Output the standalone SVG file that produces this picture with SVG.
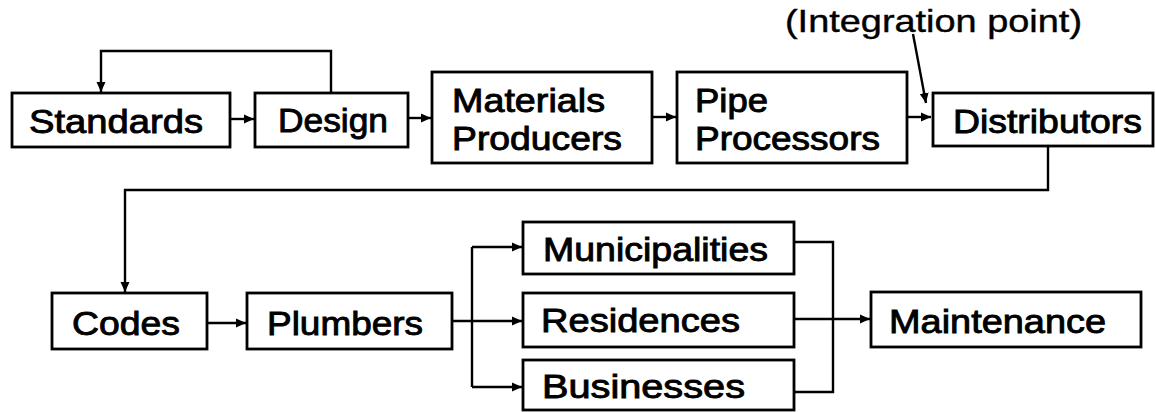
<svg xmlns="http://www.w3.org/2000/svg" width="1156" height="412" viewBox="0 0 1156 412">
  <style>
    .box { fill: #fff; stroke: #000; stroke-width: 2.8; }
    .lbl { font-family: "Liberation Sans", Arial, sans-serif; font-size: 33px; fill: #000; stroke: #000; stroke-width: 0.9; }
    .note { font-family: "Liberation Sans", Arial, sans-serif; font-size: 32px; fill: #000; stroke: #000; stroke-width: 0.4; }
    .wire { fill: none; stroke: #000; stroke-width: 2.4; }
  </style>
  <defs>
    <marker id="arrow" viewBox="0 0 10 10" refX="10" refY="5" markerWidth="10" markerHeight="10" markerUnits="userSpaceOnUse" orient="auto">
      <path d="M0,0.5 L10,5 L0,9.5 Z" fill="#000"/>
    </marker>
  </defs>

  <rect width="1156" height="412" fill="#fff"/>

  <!-- connectors -->
  <g id="connectors">
    <path class="wire" d="M331,93 V51 H101 V92" marker-end="url(#arrow)"/>
    <path class="wire" d="M230,119 H254" marker-end="url(#arrow)"/>
    <path class="wire" d="M408,118 H431" marker-end="url(#arrow)"/>
    <path class="wire" d="M652,117 H676" marker-end="url(#arrow)"/>
    <path class="wire" d="M907,117 H931" marker-end="url(#arrow)"/>
    <path class="wire" d="M913,34 L926,103" marker-end="url(#arrow)"/>
    <path class="wire" d="M1048,146 V190 H125 V292" marker-end="url(#arrow)"/>
    <path class="wire" d="M207,323 H246" marker-end="url(#arrow)"/>
    <path class="wire" d="M452,321 H522" marker-end="url(#arrow)"/>
    <path class="wire" d="M472,247 V387"/>
    <path class="wire" d="M472,247 H522" marker-end="url(#arrow)"/>
    <path class="wire" d="M472,387 H522" marker-end="url(#arrow)"/>
    <path class="wire" d="M794,242 H833 V392 H794"/>
    <path class="wire" d="M794,319 H870" marker-end="url(#arrow)"/>
  </g>

  <text class="note" x="785" y="32" textLength="297" lengthAdjust="spacingAndGlyphs">(Integration point)</text>

  <g id="standards">
    <rect class="box" x="12" y="93" width="218" height="54"/>
    <text class="lbl" x="29" y="133" textLength="174" lengthAdjust="spacingAndGlyphs">Standards</text>
  </g>
  <g id="design">
    <rect class="box" x="255" y="93" width="153" height="54"/>
    <text class="lbl" x="278" y="132" textLength="110" lengthAdjust="spacingAndGlyphs">Design</text>
  </g>
  <g id="materials-producers">
    <rect class="box" x="432" y="72" width="220" height="91"/>
    <text class="lbl" x="452" y="112" textLength="153" lengthAdjust="spacingAndGlyphs">Materials</text>
    <text class="lbl" x="452" y="150" textLength="170" lengthAdjust="spacingAndGlyphs">Producers</text>
  </g>
  <g id="pipe-processors">
    <rect class="box" x="677" y="72" width="230" height="91"/>
    <text class="lbl" x="695" y="112" textLength="73" lengthAdjust="spacingAndGlyphs">Pipe</text>
    <text class="lbl" x="695" y="150" textLength="185" lengthAdjust="spacingAndGlyphs">Processors</text>
  </g>
  <g id="distributors">
    <rect class="box" x="933" y="93" width="220" height="53"/>
    <text class="lbl" x="953" y="133" textLength="189" lengthAdjust="spacingAndGlyphs">Distributors</text>
  </g>
  <g id="codes">
    <rect class="box" x="52" y="293" width="155" height="56"/>
    <text class="lbl" x="72" y="335" textLength="108" lengthAdjust="spacingAndGlyphs">Codes</text>
  </g>
  <g id="plumbers">
    <rect class="box" x="247" y="293" width="205" height="56"/>
    <text class="lbl" x="267" y="335" textLength="156" lengthAdjust="spacingAndGlyphs">Plumbers</text>
  </g>
  <g id="municipalities">
    <rect class="box" x="523" y="222" width="271" height="52"/>
    <text class="lbl" x="543" y="261" textLength="225" lengthAdjust="spacingAndGlyphs">Municipalities</text>
  </g>
  <g id="residences">
    <rect class="box" x="523" y="293" width="271" height="54"/>
    <text class="lbl" x="541" y="332" textLength="199" lengthAdjust="spacingAndGlyphs">Residences</text>
  </g>
  <g id="businesses">
    <rect class="box" x="523" y="360" width="271" height="50"/>
    <text class="lbl" x="542" y="398" textLength="203" lengthAdjust="spacingAndGlyphs">Businesses</text>
  </g>
  <g id="maintenance">
    <rect class="box" x="871" y="292" width="270" height="55"/>
    <text class="lbl" x="889" y="333" textLength="217" lengthAdjust="spacingAndGlyphs">Maintenance</text>
  </g>
</svg>
